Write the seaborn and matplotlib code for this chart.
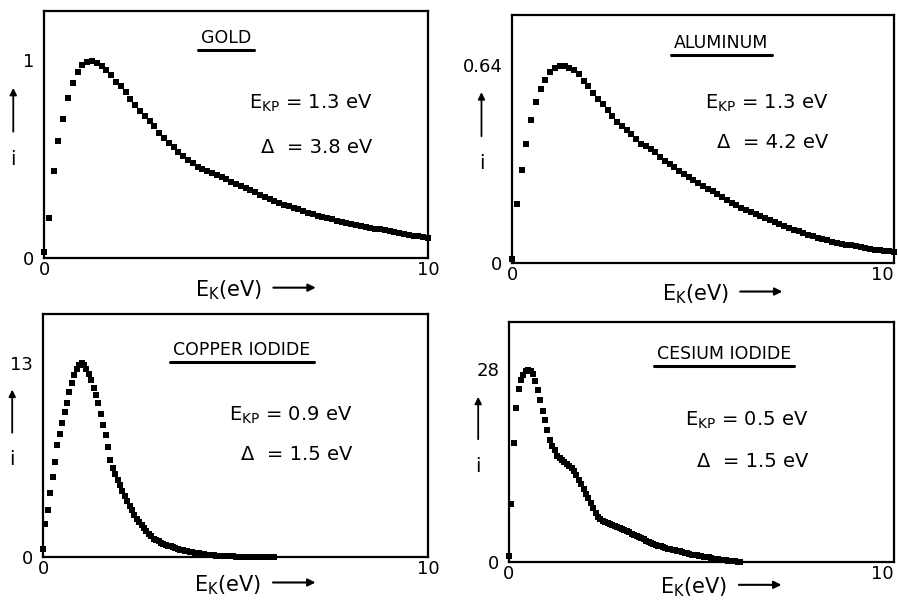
import numpy as np
import pandas as pd
import seaborn as sns
import matplotlib.pyplot as plt
from matplotlib.lines import Line2D

sns.set_style('white')
plt.rcParams['font.family'] = ['DejaVu Sans']
plt.rcParams['text.color'] = 'k'
plt.rcParams['xtick.color'] = 'k'
plt.rcParams['ytick.color'] = 'k'
plt.rcParams['axes.labelcolor'] = 'k'

# energy grids in eV (coarse one for the metals, fine one for the iodides)
e_coarse = np.arange(0, 10.001, 0.125)
e_fine = np.arange(0, 6.001, 0.0625)

# i / i_peak
gold = [0.03, 0.20, 0.44, 0.59, 0.70, 0.81, 0.885, 0.94,
        0.975, 0.992, 0.997, 0.985, 0.97, 0.95, 0.924, 0.89,
        0.868, 0.84, 0.805, 0.773, 0.743, 0.718, 0.694, 0.665,
        0.63, 0.606, 0.58, 0.558, 0.535, 0.515, 0.495, 0.479,
        0.46, 0.449, 0.439, 0.428, 0.418, 0.408, 0.397, 0.386,
        0.375, 0.364, 0.353, 0.342, 0.331, 0.32, 0.309, 0.298,
        0.287, 0.278, 0.27, 0.262, 0.254, 0.245, 0.237, 0.228,
        0.22, 0.214, 0.208, 0.201, 0.195, 0.189, 0.183, 0.176,
        0.17, 0.166, 0.161, 0.157, 0.152, 0.148, 0.144, 0.139,
        0.135, 0.131, 0.126, 0.122, 0.117, 0.113, 0.109, 0.104,
        0.10]
aluminum = [0.02, 0.30, 0.47, 0.60, 0.72, 0.81, 0.88, 0.925,
            0.965, 0.985, 0.995, 0.995, 0.986, 0.975, 0.952, 0.917,
            0.893, 0.86, 0.827, 0.80, 0.773, 0.742, 0.714, 0.69,
            0.67, 0.652, 0.625, 0.602, 0.59, 0.575, 0.56, 0.536,
            0.515, 0.499, 0.484, 0.466, 0.45, 0.434, 0.418, 0.403,
            0.388, 0.375, 0.362, 0.349, 0.334, 0.319, 0.305, 0.291,
            0.277, 0.267, 0.256, 0.246, 0.236, 0.225, 0.215, 0.205,
            0.195, 0.186, 0.177, 0.169, 0.16, 0.151, 0.143, 0.135,
            0.127, 0.121, 0.115, 0.108, 0.102, 0.098, 0.093, 0.089,
            0.085, 0.081, 0.077, 0.072, 0.068, 0.065, 0.062, 0.059,
            0.056]
cu_iodide = [0.04, 0.17, 0.24, 0.33, 0.41, 0.49, 0.575, 0.635, 0.69, 0.745, 0.79, 0.85, 0.895, 0.935, 0.965, 0.988,
             0.997, 0.988, 0.965, 0.94, 0.91, 0.87, 0.836, 0.79, 0.736, 0.68, 0.628, 0.565, 0.50, 0.46, 0.426, 0.397,
             0.37, 0.34, 0.313, 0.288, 0.264, 0.24, 0.217, 0.195, 0.178, 0.163, 0.148, 0.133, 0.12, 0.107, 0.095, 0.087,
             0.08, 0.074, 0.069, 0.064, 0.059, 0.054, 0.049, 0.045, 0.041, 0.038, 0.035, 0.032, 0.029, 0.027, 0.024, 0.022,
             0.02, 0.018, 0.016, 0.014, 0.012, 0.01, 0.009, 0.008, 0.007, 0.006, 0.005, 0.005, 0.004, 0.004, 0.003, 0.003,
             0.002, 0.002, 0.002, 0.001, 0.001, 0.001, 0.001, 0.001, 0, 0, 0, 0, 0, 0, 0, 0,
             0]
cs_iodide = [0.03, 0.30, 0.62, 0.80, 0.90, 0.945, 0.972, 0.99, 0.995, 0.993, 0.975, 0.94, 0.895, 0.84, 0.783, 0.735,
             0.685, 0.632, 0.605, 0.58, 0.552, 0.54, 0.528, 0.518, 0.508, 0.5, 0.487, 0.473, 0.45, 0.428, 0.405, 0.38,
             0.355, 0.33, 0.304, 0.278, 0.256, 0.236, 0.225, 0.215, 0.208, 0.203, 0.197, 0.192, 0.187, 0.182, 0.177, 0.172,
             0.166, 0.16, 0.154, 0.148, 0.142, 0.136, 0.13, 0.123, 0.117, 0.111, 0.105, 0.1, 0.094, 0.089, 0.085, 0.081,
             0.077, 0.073, 0.07, 0.067, 0.064, 0.061, 0.058, 0.055, 0.051, 0.048, 0.045, 0.042, 0.039, 0.036, 0.034, 0.032,
             0.03, 0.028, 0.026, 0.024, 0.021, 0.018, 0.016, 0.014, 0.012, 0.01, 0.008, 0.007, 0.005, 0.004, 0.003, 0.001,
             0.0]

names = ['GOLD', 'ALUMINUM', 'COPPER IODIDE', 'CESIUM IODIDE']
curves = [gold, aluminum, cu_iodide, cs_iodide]
grids = [e_coarse, e_coarse, e_fine, e_fine]
peaks = [1, 0.64, 13, 28]
peak_labels = ['1', '0.64', '13', '28']
e_kp = ['1.3', '1.3', '0.9', '0.5']
delta = ['3.8', '4.2', '1.5', '1.5']

# layout (figure fractions / axes fractions)
rects = [[0.049, 0.5714, 0.4276, 0.4103],
         [0.5702, 0.5631, 0.4254, 0.412],
         [0.0479, 0.0748, 0.4287, 0.4037],
         [0.5668, 0.0664, 0.4287, 0.3987]]
ytop = [1.247, 0.801, 16.26, 34.9]
title_xy = [(0.474, 0.89), (0.548, 0.887), (0.517, 0.852), (0.558, 0.867)]
text_x = [0.854, 0.827, 0.803, 0.777]
text_y = [(0.627, 0.449), (0.645, 0.484), (0.584, 0.42), (0.592, 0.417)]
xlab_y = [-0.13, -0.125, -0.115, -0.105]

fig = plt.figure(figsize=(8.98, 6.02), dpi=100)
titles = []

for k in range(4):
    ax = fig.add_axes(rects[k])
    df = pd.DataFrame({'E': grids[k], 'i': np.array(curves[k]) * peaks[k]})
    sns.scatterplot(data=df, x='E', y='i', marker='s', s=13, color='k',
                    linewidth=0, ax=ax, clip_on=False)

    ax.set_xlim(0, 10)
    ax.set_ylim(0, ytop[k])
    ax.set_xticks(range(11))
    ax.set_xticklabels(['0'] + [''] * 9 + ['10'])
    if k % 2 == 1:
        # right-hand panels sit on the figure edge
        ax.get_xticklabels()[-1].set_horizontalalignment('right')
    ax.set_yticks([0, peaks[k]])
    ax.set_yticklabels(['0', peak_labels[k]])
    ax.tick_params(axis='x', direction='in', length=5, width=1.2, pad=2,
                   labelsize=13, color='k')
    ax.tick_params(axis='y', direction='out', length=5, width=1.2, pad=2,
                   labelsize=13, color='k')
    ax.set_xlabel('')
    ax.set_ylabel('')
    for sp in ax.spines.values():
        sp.set_visible(True)
        sp.set_color('k')
        sp.set_linewidth(1.6)

    # axis labels with arrows
    ax.text(0.48, xlab_y[k], r'E$_\mathregular{K}$(eV)', transform=ax.transAxes,
            ha='center', va='center', fontsize=15)
    ax.annotate('', xy=(0.715, xlab_y[k] + 0.01), xytext=(0.59, xlab_y[k] + 0.01),
                xycoords='axes fraction', textcoords='axes fraction',
                arrowprops=dict(arrowstyle='-|>', lw=1.5, color='k',
                                mutation_scale=11), annotation_clip=False)
    ax.text(-0.08, 0.40, 'i', transform=ax.transAxes, ha='center',
            va='center', fontsize=14)
    ax.annotate('', xy=(-0.08, 0.70), xytext=(-0.08, 0.50),
                xycoords='axes fraction', textcoords='axes fraction',
                arrowprops=dict(arrowstyle='-|>', lw=1.3, color='k',
                                mutation_scale=10), annotation_clip=False)

    t = ax.text(title_xy[k][0], title_xy[k][1], names[k], transform=ax.transAxes,
                ha='center', va='center', fontsize=12.5)
    titles.append(t)

    ax.text(text_x[k], text_y[k][0], r'E$_\mathregular{KP}$ = %s eV' % e_kp[k],
            transform=ax.transAxes, ha='right', va='center', fontsize=14)
    ax.text(text_x[k], text_y[k][1], '\u0394  = %s eV' % delta[k],
            transform=ax.transAxes, ha='right', va='center', fontsize=14)

# underline the sample names
fig.canvas.draw()
W, H = fig.get_size_inches() * fig.dpi
for t in titles:
    bb = t.get_window_extent()
    yline = (bb.y0 - 3) / H
    fig.add_artist(Line2D([(bb.x0 - 3) / W, (bb.x1 + 3) / W], [yline, yline],
                          color='k', lw=2.2))

fig.savefig('out.png', dpi=100)
